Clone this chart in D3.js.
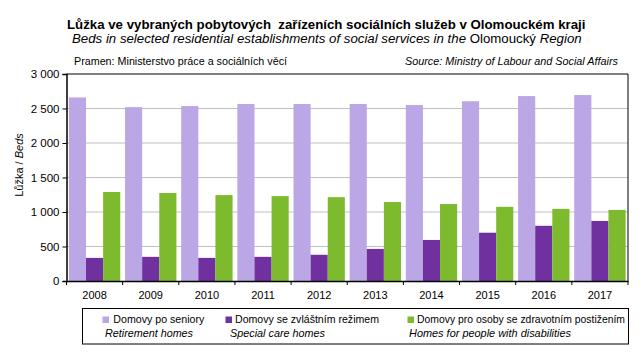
<!DOCTYPE html>
<html><head><meta charset="utf-8">
<script src="https://cdn.jsdelivr.net/npm/d3@7"></script>
<style>body{margin:0;background:#fff}svg{display:block;font-family:"Liberation Sans",Arial,sans-serif}</style>
</head><body><svg id="c" width="643" height="355"></svg>
<script>
const years = ["2008","2009","2010","2011","2012","2013","2014","2015","2016","2017"];
const seniors = [2660, 2520, 2535, 2565, 2565, 2565, 2550, 2605, 2680, 2695];
const special = [335, 350, 335, 350, 380, 465, 595, 700, 800, 870];
const disabled = [1290, 1275, 1245, 1230, 1215, 1145, 1115, 1075, 1045, 1030];
const yTicks = [0, 500, 1000, 1500, 2000, 2500, 3000];
const seriesNames = ["Domovy po seniory", "Domovy se zvláštním režimem", "Domovy pro osoby se zdravotním postižením"];
const seriesNamesEn = ["Retirement homes", "Special care homes", "Homes for people with disabilities"];
const colors = ["#BBA6E6", "#7030A0", "#7DBA2E"];

const svg = d3.select("#c");
const L = 66.5, R = 628, T = 74, B = 281;
const x = d3.scaleBand().domain(years).range([L, R]).paddingInner(0).paddingOuter(0);
const inner = d3.scaleBand().domain([0,1,2]).range([0, x.bandwidth()]).paddingInner(0).paddingOuter(0.14);
const y = d3.scaleLinear().domain([0, 3000]).range([B, T]);
const series = [seniors, special, disabled];

// gridlines
svg.append("g").selectAll("line").data(yTicks.filter(d => d > 0 && d < 3000)).join("line")
  .attr("x1", L).attr("x2", R).attr("y1", d => y(d)).attr("y2", d => y(d))
  .attr("stroke", "#BFBFBF").attr("stroke-width", 1);

// bars
series.forEach((vals, si) => {
  svg.append("g").selectAll("rect").data(years).join("rect")
    .attr("x", d => x(d) + inner(si))
    .attr("width", inner.bandwidth())
    .attr("y", (d, i) => y(vals[i]))
    .attr("height", (d, i) => B - y(vals[i]))
    .attr("fill", colors[si]);
});

// frame
svg.append("line").attr("x1", L).attr("x2", R).attr("y1", T).attr("y2", T).attr("stroke", "#000");
svg.append("line").attr("x1", R).attr("x2", R).attr("y1", T).attr("y2", B).attr("stroke", "#000");

// y axis
const yAxis = d3.axisLeft(y).tickValues(yTicks).tickSize(4).tickPadding(3)
  .tickFormat(d => d3.format(",")(d).replace(",", " "));
const gy = svg.append("g").attr("transform", `translate(${L},0)`).call(yAxis);
gy.select(".domain").attr("stroke", "#000").attr("stroke-width", 1.5);
gy.selectAll(".tick line").attr("stroke", "#000");
gy.selectAll("text").attr("font-size", 11.5).attr("fill", "#000").attr("font-family", "Liberation Sans, Arial");

// x axis
const gx = svg.append("g").attr("transform", `translate(0,${B})`).call(d3.axisBottom(x).tickSize(0).tickPadding(10));
gx.select(".domain").attr("stroke", "#000").attr("stroke-width", 1.5);
gx.selectAll("text").attr("font-size", 11).attr("fill", "#000").attr("font-family", "Liberation Sans, Arial");
// boundary ticks
const bounds = years.map(d => x(d)).concat([R]);
svg.append("g").selectAll("line").data(bounds).join("line")
  .attr("x1", d => d).attr("x2", d => d).attr("y1", B).attr("y2", B + 4).attr("stroke", "#000");

// y title
const yt = svg.append("text").attr("transform", "translate(23,165) rotate(-90)")
  .attr("text-anchor", "middle").attr("font-size", 11).attr("fill", "#000");
yt.append("tspan").text("Lůžka / ");
yt.append("tspan").attr("font-style", "italic").text("Beds");

function fit(sel, w) {
  const n = sel.node();
  const len = n.getComputedTextLength();
  const fs = parseFloat(sel.attr("font-size"));
  sel.attr("font-size", fs * w / len);
}

// titles
const t1 = svg.append("text").attr("x", 67).attr("y", 29).attr("font-size", 13).attr("font-weight", "bold").attr("fill", "#000")
  .text("Lůžka ve vybraných pobytových  zařízeních sociálních služeb v Olomouckém kraji").style("white-space", "pre");
fit(t1, 519);
const t2 = svg.append("text").attr("x", 72).attr("y", 43).attr("font-size", 13).attr("fill", "#000");
t2.append("tspan").attr("font-style", "italic").text("Beds in selected residential establishments of social services in the ");
t2.append("tspan").text("Olomoucký ");
t2.append("tspan").attr("font-style", "italic").text("Region");
fit(t2, 510);

svg.append("text").attr("x", 74).attr("y", 65).attr("font-size", 10.5).attr("fill", "#000")
  .attr("textLength", 213).attr("lengthAdjust", "spacingAndGlyphs")
  .text("Pramen:  Ministerstvo práce a sociálních věcí");
svg.append("text").attr("x", 618).attr("y", 65).attr("font-size", 10.5).attr("fill", "#000")
  .attr("text-anchor", "end").attr("font-style", "italic")
  .attr("textLength", 213).attr("lengthAdjust", "spacingAndGlyphs")
  .text("Source: Ministry of Labour and Social Affairs");

// legend
svg.append("rect").attr("x", 82.5).attr("y", 308.5).attr("width", 546).attr("height", 35.5)
  .attr("fill", "#fff").attr("stroke", "#000");
const legX = [102.5, 225.5, 407.5];
const legTextX = [113.3, 235, 417];
const legW = [91, 144, 208];
const legEnX = [105, 230, 409];
const legEnW = [88, 95, 162];
seriesNames.forEach((nm, i) => {
  svg.append("rect").attr("x", legX[i]).attr("y", 316.5).attr("width", 6.5).attr("height", 6.5).attr("fill", colors[i]);
  svg.append("text").attr("x", legTextX[i]).attr("y", 323).attr("font-size", 11).attr("fill", "#000")
    .attr("textLength", legW[i]).attr("lengthAdjust", "spacingAndGlyphs").text(nm);
  svg.append("text").attr("x", legEnX[i]).attr("y", 336.5).attr("font-size", 11).attr("font-style", "italic").attr("fill", "#000")
    .attr("textLength", legEnW[i]).attr("lengthAdjust", "spacingAndGlyphs").text(seriesNamesEn[i]);
});
</script></body></html>
